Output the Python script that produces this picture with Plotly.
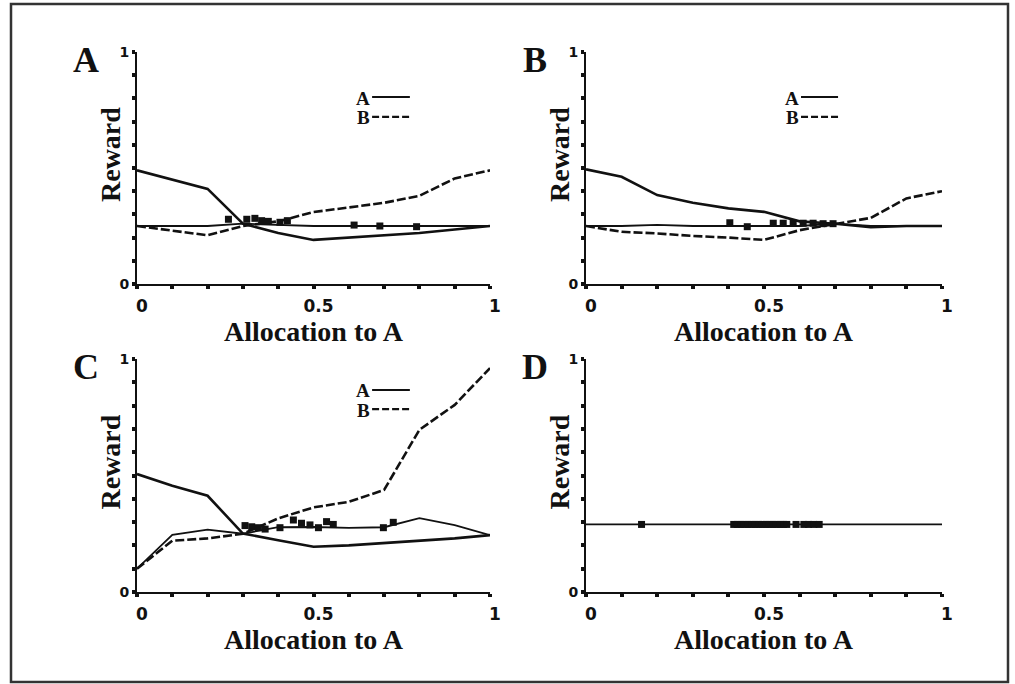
import plotly.graph_objects as go

# ---------------- data ----------------
X = [0.0, 0.1, 0.2, 0.3, 0.4, 0.5, 0.6, 0.7, 0.8, 0.9, 1.0]

# Panel A
A_rewA = [0.49, 0.45, 0.41, 0.26, 0.22, 0.19, 0.20, 0.21, 0.22, 0.235, 0.25]
A_rewB = [0.25, 0.23, 0.21, 0.25, 0.27, 0.31, 0.33, 0.35, 0.38, 0.455, 0.49]
A_mean = [0.25, 0.25, 0.25, 0.26, 0.255, 0.25, 0.25, 0.25, 0.25, 0.25, 0.25]
A_obs_x = [0.259, 0.311, 0.334, 0.353, 0.372, 0.405, 0.426, 0.615, 0.688, 0.792]
A_obs_y = [0.279, 0.279, 0.283, 0.273, 0.270, 0.266, 0.273, 0.254, 0.250, 0.247]

# Panel B
B_rewA = [0.494, 0.462, 0.383, 0.35, 0.326, 0.311, 0.27, 0.26, 0.245, 0.25, 0.25]
B_rewB = [0.25, 0.225, 0.218, 0.207, 0.20, 0.19, 0.232, 0.258, 0.285, 0.369, 0.40]
B_mean = [0.25, 0.25, 0.255, 0.25, 0.25, 0.25, 0.25, 0.26, 0.25, 0.25, 0.25]
B_obs_x = [0.404, 0.453, 0.526, 0.554, 0.582, 0.610, 0.638, 0.666, 0.694]
B_obs_y = [0.264, 0.247, 0.262, 0.262, 0.262, 0.262, 0.262, 0.260, 0.260]

# Panel C
C_rewA = [0.506, 0.456, 0.413, 0.251, 0.222, 0.194, 0.20, 0.21, 0.222, 0.23, 0.244]
C_rewB = [0.10, 0.22, 0.23, 0.25, 0.316, 0.363, 0.387, 0.438, 0.696, 0.803, 0.961]
C_mean = [0.10, 0.245, 0.268, 0.25, 0.278, 0.279, 0.275, 0.278, 0.317, 0.287, 0.244]
C_obs_x = [0.306, 0.325, 0.344, 0.363, 0.405, 0.443, 0.466, 0.490, 0.514, 0.537, 0.556, 0.698, 0.726]
C_obs_y = [0.285, 0.280, 0.276, 0.270, 0.276, 0.309, 0.295, 0.288, 0.276, 0.302, 0.290, 0.276, 0.299]

# Panel D
D_mean = [0.29, 0.29, 0.29, 0.29, 0.29, 0.29, 0.29, 0.29, 0.29, 0.29, 0.29]
D_obs_x = [0.156, 0.415, 0.425, 0.435, 0.445, 0.455, 0.465, 0.475, 0.485, 0.495, 0.505,
           0.515, 0.525, 0.535, 0.545, 0.555, 0.564, 0.590, 0.612, 0.625, 0.640, 0.655]
D_obs_y = [0.29] * len(D_obs_x)

PANEL_LETTERS = ["A", "B", "C", "D"]
X_TICKS = [0.0, 0.1, 0.2, 0.3, 0.4, 0.5, 0.6, 0.7, 0.8, 0.9, 1.0]
X_TICKTEXT = ["0", "", "", "", "", "0.5", "", "", "", "", "1"]
Y_TICKS = [0.0, 0.1, 0.2, 0.3, 0.4, 0.5, 0.6, 0.7, 0.8, 0.9, 1.0]
Y_TICKTEXT = ["0", "", "", "", "", "", "", "", "", "", "1"]
X_TITLE = "Allocation to A"
Y_TITLE = "Reward"
LEGEND_LABELS = ["A", "B"]

# ---------------- layout helpers ----------------
W, H = 1015, 684
SERIF = "Liberation Serif, Times New Roman, serif"
SANS = "DejaVu Sans, Arial, sans-serif"
INK = "#111111"
DASH = "9px,3px"

def px_dom_x(a, b):
    return [a / W, b / W]

def px_dom_y(top, bottom):
    return [1 - bottom / H, 1 - top / H]

dom_x = [px_dom_x(137, 490), px_dom_x(586, 942), px_dom_x(137, 490), px_dom_x(586, 942)]
dom_y = [px_dom_y(52, 284), px_dom_y(52, 284), px_dom_y(359, 592), px_dom_y(359, 592)]

fig = go.Figure()

panels = [
    (A_rewA, A_rewB, A_mean, A_obs_x, A_obs_y),
    (B_rewA, B_rewB, B_mean, B_obs_x, B_obs_y),
    (C_rewA, C_rewB, C_mean, C_obs_x, C_obs_y),
    (None, None, D_mean, D_obs_x, D_obs_y),
]

for i, (ra, rb, mean, ox, oy) in enumerate(panels):
    xa = "x" if i == 0 else f"x{i+1}"
    ya = "y" if i == 0 else f"y{i+1}"
    if ra is not None:
        fig.add_trace(go.Scatter(x=X, y=ra, mode="lines", xaxis=xa, yaxis=ya,
                                 line=dict(color=INK, width=2.6), cliponaxis=False,
                                 showlegend=False, hoverinfo="skip"))
        fig.add_trace(go.Scatter(x=X, y=rb, mode="lines", xaxis=xa, yaxis=ya,
                                 line=dict(color=INK, width=2.6, dash=DASH),
                                 cliponaxis=False, showlegend=False, hoverinfo="skip"))
    fig.add_trace(go.Scatter(x=X, y=mean, mode="lines", xaxis=xa, yaxis=ya,
                             line=dict(color=INK, width=1.8), cliponaxis=False,
                             showlegend=False, hoverinfo="skip"))
    fig.add_trace(go.Scatter(x=ox, y=oy, mode="markers", xaxis=xa, yaxis=ya,
                             marker=dict(symbol="square", size=7, color=INK,
                                         line=dict(width=0)),
                             cliponaxis=False, showlegend=False, hoverinfo="skip"))

layout = dict(
    width=W, height=H,
    margin=dict(l=0, r=0, t=0, b=0, autoexpand=False),
    paper_bgcolor="white", plot_bgcolor="white",
    showlegend=False,
)

annotations = []
shapes = []
for i in range(4):
    sx = "" if i == 0 else str(i + 1)
    layout["xaxis" + sx] = dict(
        domain=dom_x[i], anchor="y" + sx, range=[0, 1], automargin=False,
        showline=True, linewidth=2, linecolor=INK, mirror=False,
        ticks="outside", ticklen=3, tickwidth=4, tickcolor=INK,
        tickmode="array", tickvals=X_TICKS, ticktext=X_TICKTEXT,
        tickfont=dict(family=SANS, size=17, color=INK, weight="bold"),
        ticklabelshift=5, ticklabelstandoff=3,
        showgrid=False, zeroline=False, fixedrange=True,
    )
    layout["yaxis" + sx] = dict(
        domain=dom_y[i], anchor="x" + sx, range=[0, 1], automargin=False,
        showline=True, linewidth=2, linecolor=INK,
        ticks="outside", ticklen=3, tickwidth=4, tickcolor=INK,
        tickmode="array", tickvals=Y_TICKS, ticktext=Y_TICKTEXT,
        tickfont=dict(family=SANS, size=14, color=INK, weight="bold"),
        showgrid=False, zeroline=False, fixedrange=True,
    )
    xd = "x" + sx + " domain"
    yd = "y" + sx + " domain"
    # x title
    annotations.append(dict(text=X_TITLE, xref=xd, yref=yd, x=0.5, y=0,
                            xanchor="center", yanchor="middle", yshift=-47,
                            showarrow=False,
                            font=dict(family=SERIF, size=28, color=INK, weight="bold")))
    # y title
    annotations.append(dict(text=Y_TITLE, xref=xd, yref=yd, x=0, y=0.5,
                            xanchor="center", yanchor="middle", xshift=-27, yshift=13,
                            textangle=-90, showarrow=False,
                            font=dict(family=SERIF, size=28, color=INK, weight="bold")))
    # panel letter
    annotations.append(dict(text=PANEL_LETTERS[i], xref=xd, yref=yd, x=0, y=1,
                            xanchor="center", yanchor="middle", xshift=-51, yshift=-8,
                            showarrow=False,
                            font=dict(family=SERIF, size=36, color=INK, weight="bold")))

# legends (panels A, B, C)
leg_pos = [
    ("x domain", "y domain", 0.666, 0.773, 0.806, 0.72),
    ("x2 domain", "y2 domain", 0.604, 0.708, 0.806, 0.72),
    ("x3 domain", "y3 domain", 0.666, 0.773, 0.867, 0.785),
]
for xd, yd, x0, x1, ya, yb in leg_pos:
    for lab, yy, dash in [(LEGEND_LABELS[0], ya, "solid"), (LEGEND_LABELS[1], yb, "dash")]:
        annotations.append(dict(text=lab, xref=xd, yref=yd, x=x0, y=yy,
                                xanchor="right", yanchor="middle", yshift=-1,
                                showarrow=False,
                                font=dict(family=SERIF, size=19, color=INK, weight="bold")))
        shapes.append(dict(type="line", xref=xd, yref=yd, x0=x0, x1=x1, y0=yy, y1=yy,
                           line=dict(color=INK, width=2.2,
                                     dash="solid" if dash == "solid" else "7px,3px")))

# outer frame
shapes.append(dict(type="rect", xref="paper", yref="paper",
                   x0=11 / W, x1=1008 / W, y0=1 - 682 / H, y1=1 - 4 / H,
                   line=dict(color="#333333", width=2.5), fillcolor="rgba(0,0,0,0)",
                   layer="below"))

layout["annotations"] = annotations
layout["shapes"] = shapes
fig.update_layout(**layout)

POST = """
document.documentElement.style.margin='0';
document.documentElement.style.padding='0';
document.documentElement.style.overflow='hidden';
document.body.style.margin='0';
document.body.style.padding='0';
document.body.style.overflow='hidden';
var gd = document.getElementById('{plot_id}');
gd.style.position='fixed'; gd.style.left='0px'; gd.style.top='0px';
Plotly.relayout(gd, {width: window.innerWidth, height: window.innerHeight});
"""

fig.write_html("out.html", config={"displayModeBar": False}, post_script=POST)
